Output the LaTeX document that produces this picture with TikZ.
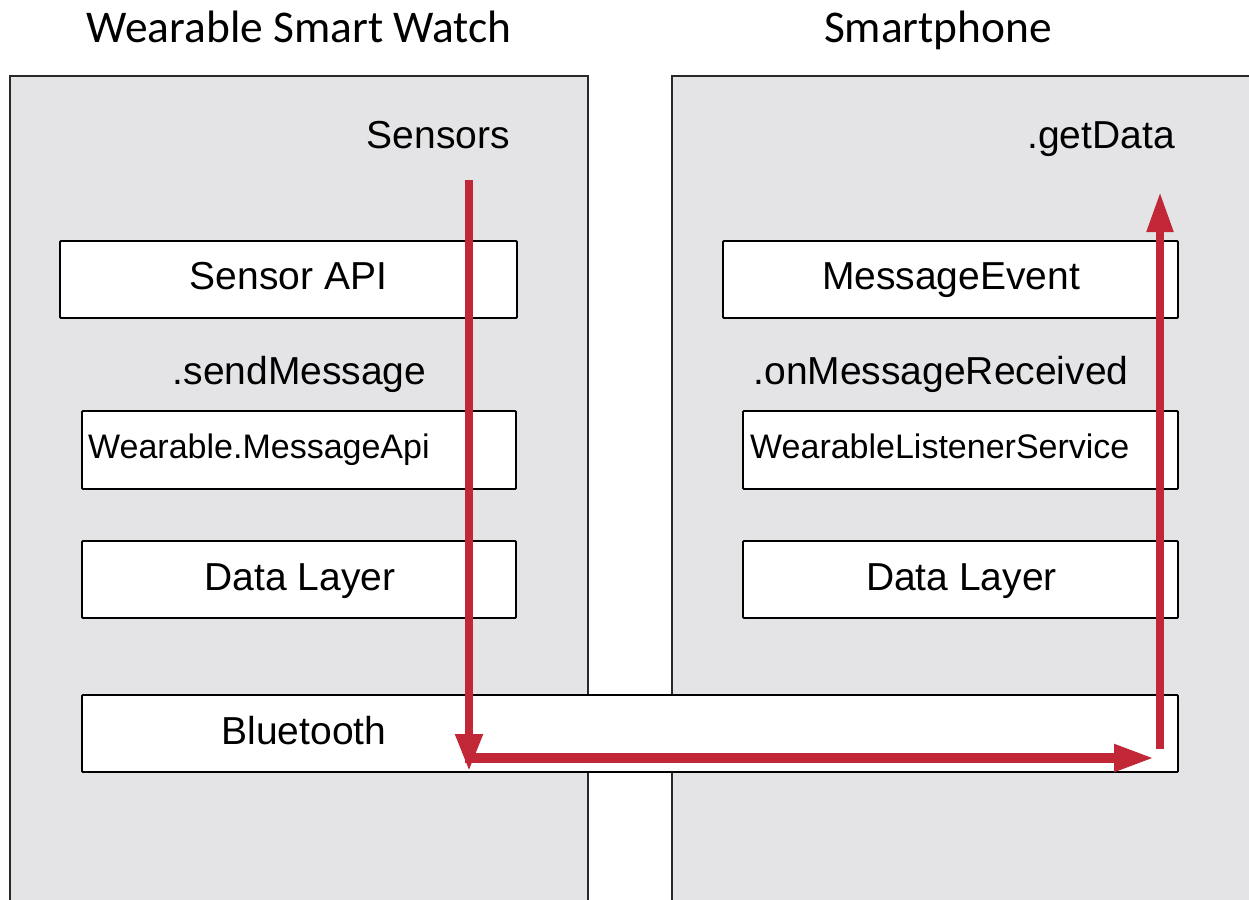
\documentclass[tikz,border=0pt]{standalone}
\usepackage{fontspec}
\setmainfont{Liberation Sans}
\newfontfamily\titlefont{Carlito}
\usetikzlibrary{arrows.meta}
\definecolor{panelgray}{RGB}{228,228,230}
\definecolor{flowred}{RGB}{193,39,54}
\definecolor{edge}{RGB}{40,40,40}
\tikzset{
  panel/.style={fill=panelgray, draw=edge, line width=2pt},
  box/.style={draw=black, fill=white, line width=1.8pt, rounded corners=1pt},
  titletext/.style={font=\titlefont\fontsize{45.4}{50}\selectfont, inner sep=0pt},
  lbl/.style={font=\fontsize{39}{44}\selectfont, inner sep=0pt},
  small/.style={font=\fontsize{34}{40}\selectfont, inner sep=0pt},
  flow/.style={draw=flowred, line width=8pt},
}
\begin{document}
\begin{tikzpicture}[x=1pt, y=-1pt]
\useasboundingbox (0,0) rectangle (1249,899);
\clip (0,0) rectangle (1249,899);
\fill[white] (0,0) rectangle (1249,899);
% panels
\draw[panel] (10,76) rectangle (588,930);
\draw[panel] (672,76) rectangle (1262,930);
% titles
\node[titletext, anchor=base] (wtitle) at (299,42) {Wearable Smart Watch};
\node[titletext, anchor=base] (ptitle) at (938,42) {Smartphone};
% watch side
\node[lbl, anchor=base east] (sensors) at (510,148) {Sensors};
\node[box, minimum width=457pt, minimum height=77pt] (sapi) at (288.5,279.5) {};
\node[lbl, anchor=base] (sapit) at (288.5,289) {Sensor API};
\node[lbl, anchor=base] (send) at (299.5,384) {.sendMessage};
\node[box, minimum width=434pt, minimum height=78pt] (wmapi) at (299,450) {};
\node[small, anchor=base west] (wmapit) at (88,458) {Wearable.MessageApi};
\node[box, minimum width=434pt, minimum height=77pt] (wdl) at (299,579.5) {};
\node[lbl, anchor=base] (wdlt) at (300,590) {Data Layer};
% phone side
\node[lbl, anchor=base east] (getdata) at (1175,148) {.getData};
\node[box, minimum width=455pt, minimum height=77pt] (mev) at (950.5,279.5) {};
\node[lbl, anchor=base] (mevt) at (951,289) {MessageEvent};
\node[lbl, anchor=base] (onrec) at (941,384) {.onMessageReceived};
\node[box, minimum width=435pt, minimum height=78pt] (wls) at (960.5,450) {};
\node[small, anchor=base west] (wlst) at (750,458) {WearableListenerService};
\node[box, minimum width=435pt, minimum height=77pt] (pdl) at (960.5,579.5) {};
\node[lbl, anchor=base] (pdlt) at (961.5,590) {Data Layer};
% bluetooth spanning both
\node[box, minimum width=1096pt, minimum height=77pt] (bt) at (630,733.5) {};
\node[lbl, anchor=base] (btt) at (304,744) {Bluetooth};
% flow arrows
\coordinate (a0) at (469,180);
\coordinate (a1) at (469,771);
\coordinate (b0) at (465,758);
\coordinate (b1) at (1155,758);
\coordinate (c0) at (1160,749);
\coordinate (c1) at (1160,192);
\draw[flow, -{Triangle[length=37pt, width=26pt]}] (a0) -- (a1);
\draw[flow, line width=10pt, -{Triangle[length=41pt, width=25pt]}] (b0) -- (b1);
\draw[flow, -{Triangle[length=40pt, width=25pt]}] (c0) -- (c1);
\end{tikzpicture}
\end{document}
